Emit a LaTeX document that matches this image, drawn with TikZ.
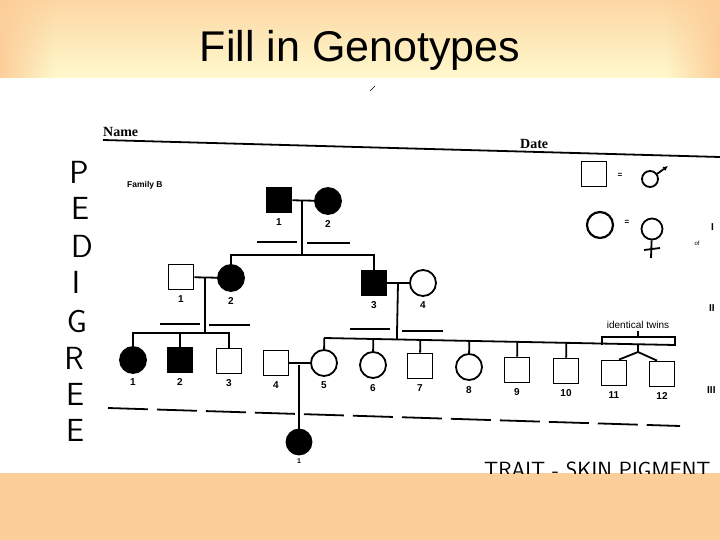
\documentclass[tikz,border=0pt]{standalone}
\usepackage{fontspec}
\setmainfont{Liberation Sans}
\newfontfamily\scanserif{Liberation Serif}
\usetikzlibrary{positioning, calc, shapes.geometric, arrows.meta, fadings}

\definecolor{slidepeach}{RGB}{252,206,153}
\definecolor{slidecream}{RGB}{255,249,206}
\definecolor{slidetop}{RGB}{252,215,163}

\tikzstyle{Male} = [draw, line width=1.8pt, minimum size=25pt, inner sep=0pt]
\tikzstyle{Female} = [draw, circle, line width=1.8pt, minimum size=26pt, inner sep=0pt]
\tikzstyle{Affected} = [fill=black]
\tikzstyle{Line} = [line width=1.8pt]
\tikzstyle{Blank} = [line width=1.5pt]
\tikzstyle{Num} = [font=\fontsize{10}{12}\selectfont\bfseries, inner xsep=1pt, inner ysep=5pt]
\tikzstyle{Hand} = [font=\sffamily\fontsize{32}{34}\selectfont, inner sep=0pt]

\tikzfading[name=fade right, left color=transparent!0, right color=transparent!100]
\tikzfading[name=fade left, left color=transparent!100, right color=transparent!0]

\begin{document}
\begin{tikzpicture}[x=1pt, y=-1pt]
    \useasboundingbox (0,0) rectangle (720,540);
    % slide background
    \fill[slidepeach] (0,0) rectangle (720,540);
    \shade[top color=slidetop, bottom color=slidecream] (0,0) rectangle (720,78);
    \fill[slidepeach, path fading=fade right] (0,0) rectangle (55,78);
    \fill[slidepeach, path fading=fade left] (665,0) rectangle (720,78);
    \node[anchor=base, font=\fontsize{43}{50}\selectfont] (title) at (360,62) {Fill in Genotypes};

    % scanned sheet
    \fill[white] (0,78) rectangle (720,473);
    \draw[line width=0.6pt] (370,91) -- (375,86);
    \node[anchor=base west, inner sep=0pt, font=\scanserif\bfseries\fontsize{14}{16}\selectfont] (name) at (103,137) {Name};
    \node[anchor=base west, inner sep=0pt, font=\scanserif\bfseries\fontsize{14}{16}\selectfont] (date) at (520,149) {Date};
    \draw[Line] (103,140) -- (720,157);
    \node[anchor=base west, inner sep=0pt, font=\bfseries\fontsize{8.5}{10}\selectfont] (family) at (127,188) {Family B};

    % handwritten PEDIGREE
    \node[Hand] (p1) at (79,172) {P};
    \node[Hand] (p2) at (80,208) {E};
    \node[Hand] (p3) at (82,246) {D};
    \node[Hand] (p4) at (76,282) {I};
    \node[Hand] (p5) at (77,322) {G};
    \node[Hand] (p6) at (74,358) {R};
    \node[Hand] (p7) at (75,394) {E};
    \node[Hand] (p8) at (75,430) {E};

    % key
    \node[Male] (keym) at (594,174) {};
    \node[font=\bfseries\fontsize{8}{9}\selectfont] (eq1) at (620,175) {=};
    \node[Female, minimum size=16pt] (mars) at (650,179) {};
    \draw[Line, -{Latex[length=5pt, width=5pt]}] (mars) -- (668,166);
    \node[Female, minimum size=26pt, line width=2.2pt] (keyf) at (600,225) {};
    \node[font=\bfseries\fontsize{8}{9}\selectfont] (eq2) at (627,222) {=};
    \node[Female, minimum size=21pt] (venus) at (652,229) {};
    \draw[Line] (venus) -- (651,258);
    \draw[Line] (644,250) -- (660,248);

    % generation I
    \node[Male, Affected, label={[Num]below:1}] (I1) at (279,200) {};
    \node[Female, Affected, label={[Num]below:2}] (I2) at (328,201) {};
    \coordinate (m1) at (302,201);
    \coordinate (s1) at (302,255);
    \draw[Line] (I1) -- (I2);
    \draw[Line] (m1) -- (s1);
    \draw[Blank] (257,242) -- (297,242);
    \draw[Blank] (307,243) -- (350,243);

    % generation II
    \node[Male, label={[Num]below:1}] (II1) at (181,277) {};
    \node[Female, Affected, label={[Num]below:2}] (II2) at (231,278) {};
    \node[Male, Affected, label={[Num]below:3}] (II3) at (374,283) {};
    \node[Female, label={[Num]below:4}] (II4) at (423,283) {};
    \draw[Line] (II2) |- (s1) -| (II3);
    \draw[Line] (II1) -- (II2);
    \draw[Line] (II3) -- (II4);
    \coordinate (m2) at (205,278);
    \coordinate (s2) at (205,333);
    \coordinate (m3) at (398,283);
    \draw[Line] (m2) -- (s2);
    \draw[Blank] (160,324) -- (200,324);
    \draw[Blank] (209,325) -- (250,325);
    \draw[Blank] (350,329) -- (390,329);
    \draw[Blank] (402,331) -- (443,331);

    % generation III
    \node[Female, Affected, label={[Num]below:1}] (III1) at (133,360) {};
    \node[Male, Affected, label={[Num]below:2}] (III2) at (180,360) {};
    \node[Male, label={[Num]below:3}] (III3) at (229,361) {};
    \node[Male, label={[Num]below:4}] (III4) at (276,363) {};
    \node[Female, label={[Num]below:5}] (III5) at (324,363) {};
    \node[Female, label={[Num]below:6}] (III6) at (373,365) {};
    \node[Male, label={[Num]below:7}] (III7) at (420,366) {};
    \node[Female, label={[Num]below:8}] (III8) at (469,367) {};
    \node[Male, label={[Num]below:9}] (III9) at (517,370) {};
    \node[Male, label={[Num]below:10}] (III10) at (566,371) {};
    \node[Male, label={[Num]below:11}] (III11) at (614,373) {};
    \node[Male, label={[Num]below:12}] (III12) at (662,374) {};
    \draw[Line] (III1) |- (s2) -| (III3);
    \draw[Line] (III2) -- (III2 |- s2);
    \coordinate (s3a) at (324,338);
    \coordinate (s3b) at (675,345);
    \draw[Line] (s3a) -- (s3b);
    \draw[Line] (m3) -- ($(s3a)!(m3)!(s3b)$);
    \draw[Line] (III5) -- ($(s3a)!(III5.north)!(s3b)$);
    \draw[Line] (III6) -- ($(s3a)!(III6.north)!(s3b)$);
    \draw[Line] (III7) -- ($(s3a)!(III7.north)!(s3b)$);
    \draw[Line] (III8) -- ($(s3a)!(III8.north)!(s3b)$);
    \draw[Line] (III9) -- ($(s3a)!(III9.north)!(s3b)$);
    \draw[Line] (III10) -- ($(s3a)!(III10.north)!(s3b)$);
    \coordinate (tw) at (638,352);
    \draw[Line] (tw) -- ($(s3a)!(tw)!(s3b)$);
    \draw[Line] (tw) -- ([xshift=5pt]III11.north);
    \draw[Line] (tw) -- ([xshift=-5pt]III12.north);
    \draw[Line] (602,345) -- (602,337) -- (675,337) -- (675,346);
    \draw[Line] (638,337) -- (638,331);
    \node[font=\fontsize{10}{12}\selectfont, inner sep=0pt] (twins) at (638,325) {identical twins};
    \draw[Line] (III4) -- (III5);
    \coordinate (m4) at (299,365);

    % generation IV
    \draw[Line, dash pattern=on 40pt off 9pt] (108,408) -- (680,426);
    \node[Female, Affected, minimum size=25pt, label={[Num, font=\fontsize{7}{8}\selectfont\bfseries, inner ysep=3pt]below:1}] (IV1) at (299,442) {};
    \draw[Line] (m4) -- (IV1);

    % generation marks
    \node[font=\bfseries\fontsize{10}{12}\selectfont, anchor=west, inner sep=0pt] (gI) at (711,227) {I};
    \node[font=\bfseries\fontsize{10}{12}\selectfont, anchor=west, inner sep=0pt] (gII) at (709,308) {II};
    \node[font=\bfseries\fontsize{10}{12}\selectfont, anchor=west, inner sep=0pt] (gIII) at (707,390) {III};
    \node[font=\fontsize{6}{7}\selectfont, inner sep=0pt] (of) at (697,243) {of};

    % trait note, cut off by the slide
    \begin{scope}
        \clip (0,78) rectangle (720,473);
        \node[anchor=base west, inner sep=0pt, font=\sffamily\fontsize{22}{24}\selectfont] (trait) at (484,477) {TRAIT - SKIN PIGMENT};
    \end{scope}
\end{tikzpicture}
\end{document}
